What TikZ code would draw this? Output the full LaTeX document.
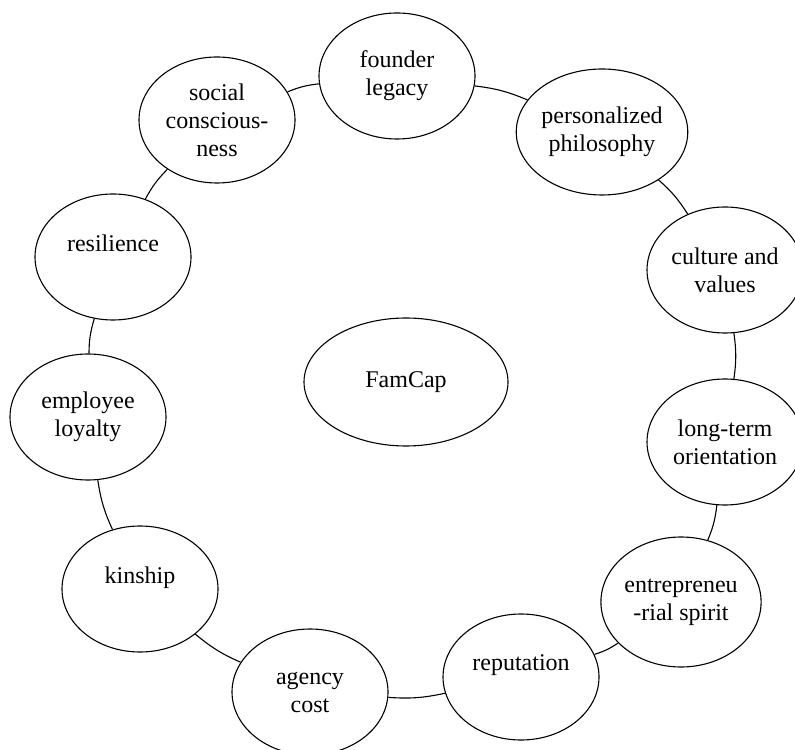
\documentclass[tikz,border=0pt]{standalone}
\usepackage{fontspec}
\setmainfont{Liberation Serif}
\usetikzlibrary{shapes}

\begin{document}
\begin{tikzpicture}[x=0.5pt,y=0.5pt,line width=0.55pt,
                    main node/.style={ellipse,draw,inner sep=0pt,align=center,
                      minimum width=78pt,minimum height=63pt,
                      font=\fontsize{12}{14}\selectfont}]
  \useasboundingbox (0,0) rectangle (795,749);

  \node[main node,minimum width=102pt,minimum height=64pt] (0) at (406,367) {FamCap};

  \node[main node] (1) at (397,673) {founder\\legacy};
  \node[main node] (2) at (602,617) {personalized\\philosophy};
  \node[main node] (3) at (725,479) {culture and\\values};
  \node[main node] (4) at (725,307) {long-term\\orientation};
  \node[main node,minimum height=65pt] (5) at (681,147) {entrepreneu\\-rial spirit};
  \node[main node] (6) at (521,72) {reputation\\\mbox{}};
  \node[main node] (7) at (310,57) {agency\\cost};
  \node[main node] (8) at (140,160) {kinship\\\mbox{}};
  \node[main node] (9) at (88,332) {employee\\loyalty};
  \node[main node] (10) at (113,492) {resilience\\\mbox{}};
  \node[main node] (11) at (217,629) {social\\conscious-\\ness};

  \path[every edge/.style={draw,bend left=8}]
    (1) edge (2)
    (2) edge (3)
    (3) edge (4)
    (4) edge (5)
    (5) edge (6)
    (6) edge (7)
    (7) edge (8)
    (8) edge (9)
    (9) edge (10)
    (10) edge (11)
    (11) edge (1);
\end{tikzpicture}
\end{document}
